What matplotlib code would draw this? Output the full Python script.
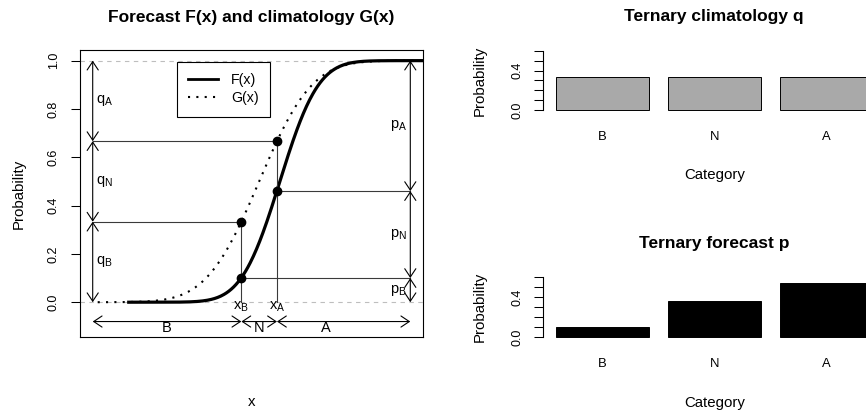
"""
Forecast CDF vs climatology CDF and the two ternary bar charts
"""

import math
import numpy as np
import matplotlib
matplotlib.use("Agg")
import matplotlib.pyplot as plt
from matplotlib.lines import Line2D

plt.rcParams["font.family"] = ["Liberation Sans", "DejaVu Sans"]
plt.rcParams["mathtext.fontset"] = "custom"
plt.rcParams["mathtext.rm"] = "Liberation Sans"

# Data
categories = ["B", "N", "A"]
clim_probs = [1 / 3, 1 / 3, 1 / 3]
fcst_probs = [0.10, 0.36, 0.54]

# normal parameters of the two curves (climatology G, forecast F)
clim_mean, clim_sd = 0.0, 1.0
fcst_mean, fcst_sd = 0.50, 0.73

# tercile limits x_B, x_A and ends of the category arrows
x_terciles = [-0.43, 0.43]
x_lo, x_hi = -4.02, 3.65
label_x_A = 1.62

W, H = 866, 416


def box(left, top, right, bottom):
    # pixel box -> figure fraction
    return [left / W, 1 - bottom / H, (right - left) / W, (bottom - top) / H]


def ncdf(x, m, s):
    return np.array([0.5 * (1 + math.erf((v - m) / (s * math.sqrt(2)))) for v in x])


fig = plt.figure(figsize=(W / 100, H / 100), dpi=100)

# ---------------- left panel ----------------
ax = fig.add_axes(box(80, 50, 423, 337))
pad = 0.04 * (x_hi - x_lo)
ax.set_xlim(x_lo - pad, x_hi + pad)
ax.set_ylim(-0.144, 1.044)

ax.axhline(0, color="#BEBEBE", lw=0.8, ls=(0, (4, 4)))
ax.axhline(1, color="#BEBEBE", lw=0.8, ls=(0, (4, 4)))

xg = np.linspace(-3.9, 4.5, 400)
xf = np.linspace(-3.15, 4.5, 400)
ax.plot(xg, ncdf(xg, clim_mean, clim_sd), color="black", lw=1.5, ls=(0, (1, 3)))
ax.plot(xf, ncdf(xf, fcst_mean, fcst_sd), color="black", lw=2.3)

q_cum = np.cumsum([0] + clim_probs)
p_cum = np.cumsum([0] + fcst_probs)
xb, xa = x_terciles

guide = dict(color="#3a3a3a", lw=0.8)
ax.plot([x_lo, xb], [q_cum[1], q_cum[1]], **guide)
ax.plot([x_lo, xa], [q_cum[2], q_cum[2]], **guide)
ax.plot([xb, x_hi], [p_cum[1], p_cum[1]], **guide)
ax.plot([xa, x_hi], [p_cum[2], p_cum[2]], **guide)
ax.plot([xb, xb], [0, q_cum[1]], **guide)
ax.plot([xa, xa], [0, q_cum[2]], **guide)

ax.plot([xb, xa, xb, xa], [q_cum[1], q_cum[2], p_cum[1], p_cum[2]],
        "o", color="black", ms=6)

arrow = dict(arrowstyle="<->,head_length=0.6,head_width=0.4", color="black",
             lw=0.8, shrinkA=0, shrinkB=0, mutation_scale=10)


def double_arrow(p0, p1):
    ax.annotate("", xy=p1, xytext=p0, arrowprops=arrow)


for i in range(3):
    double_arrow((x_lo, q_cum[i]), (x_lo, q_cum[i + 1]))
    double_arrow((x_hi, p_cum[i]), (x_hi, p_cum[i + 1]))
x_edges = [x_lo, xb, xa, x_hi]
for i in range(3):
    double_arrow((x_edges[i], -0.08), (x_edges[i + 1], -0.08))

for i, c in enumerate(categories):
    ax.text(x_lo + 0.08, (q_cum[i] + q_cum[i + 1]) / 2, r"$\mathregular{q_%s}$" % c,
            fontsize=10.5, ha="left", va="center")
    ax.text(x_hi - 0.08, (p_cum[i] + p_cum[i + 1]) / 2, r"$\mathregular{p_%s}$" % c,
            fontsize=10.5, ha="right", va="center")

cat_x = [(x_lo + xb) / 2, (xb + xa) / 2, label_x_A]
for c, cx in zip(categories, cat_x):
    ax.text(cx, -0.123, c, fontsize=10.5, ha="center", va="baseline")
ax.text(xb, -0.030, r"$\mathregular{x_B}$", fontsize=10.5, ha="center", va="baseline")
ax.text(xa, -0.030, r"$\mathregular{x_A}$", fontsize=10.5, ha="center", va="baseline")

ax.set_xticks([])
ax.set_yticks(np.arange(0, 1.01, 0.2))
ax.set_yticklabels(["%.1f" % v for v in np.arange(0, 1.01, 0.2)],
                   rotation=90, va="center")
ax.tick_params(axis="y", length=6.5, width=0.75, pad=8, labelsize=9)
for s in ax.spines.values():
    s.set_linewidth(0.8)

ax.set_title("Forecast F(x) and climatology G(x)", fontsize=12.5,
             fontweight="bold", pad=20.5)
ax.set_xlabel("x", fontsize=10.8)
ax.xaxis.set_label_coords(0.5, -(406 - 337) / 287)
ax.xaxis.label.set_va("baseline")
ax.set_ylabel("Probability", fontsize=10.8)
ax.yaxis.set_label_coords(-(80 - 19) / 343, 0.5)
ax.yaxis.label.set_va("center")

handles = [Line2D([], [], color="black", lw=2),
           Line2D([], [], color="black", lw=1.5, ls=(0, (1, 3)))]
leg = ax.legend(handles, ["F(x)", "G(x)"], loc="upper left",
                bbox_to_anchor=(177 / W, 1 - 61.7 / H), bbox_transform=fig.transFigure,
                borderaxespad=0, fancybox=False, edgecolor="black", framealpha=1,
                fontsize=10.2, handlelength=2.1, handletextpad=0.9,
                borderpad=0.8, labelspacing=0.3)
leg.get_frame().set_linewidth(0.8)

# ---------------- right panels ----------------
bar_x = [0.7, 1.9, 3.1]


def ternary(rect, values, color, title):
    b = fig.add_axes(rect)
    b.bar(bar_x, values, width=1, color=color, edgecolor="black", linewidth=0.7)
    b.set_xlim(0.064, 3.736)
    b.set_ylim(-0.024, 0.624)
    for side in ["top", "right", "bottom"]:
        b.spines[side].set_visible(False)
    b.spines["left"].set_bounds(0, 0.6)
    b.spines["left"].set_linewidth(0.8)
    b.set_yticks(np.arange(0, 0.61, 0.1))
    b.set_yticklabels(["0.0", "", "", "", "0.4", "", ""], rotation=90, va="center")
    b.tick_params(axis="y", length=6.5, width=0.75, pad=7.2, labelsize=9)
    b.set_xticks(bar_x)
    b.set_xticklabels(categories)
    b.tick_params(axis="x", length=0, pad=13.2, labelsize=9.4)
    b.set_title(title, fontsize=12.5, fontweight="bold", pad=19.4)
    b.set_xlabel("Category", fontsize=10.8)
    b.xaxis.set_label_coords(0.5, -(179.3 - 112.4) / 64)
    b.xaxis.label.set_va("baseline")
    b.set_ylabel("Probability", fontsize=10.8)
    b.yaxis.set_label_coords(-(543 - 480) / 342.6, 0.5)
    b.yaxis.label.set_va("center")
    return b


ternary(box(543, 48.4, 885.6, 112.4), clim_probs, "#A9A9A9", "Ternary climatology q")
ternary(box(543, 274.9, 885.6, 339.7), fcst_probs, "black", "Ternary forecast p")

fig.savefig("out.png", dpi=100)
